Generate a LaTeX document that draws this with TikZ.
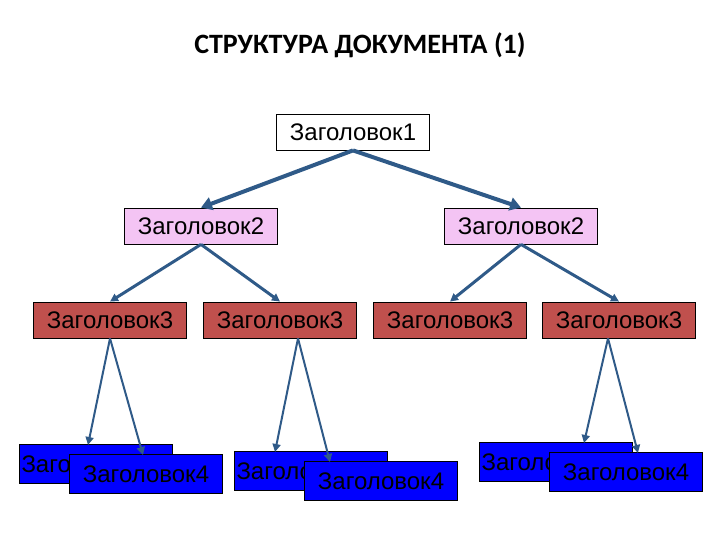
\documentclass[tikz,border=0pt]{standalone}
\usepackage{fontspec}
\setmainfont{Liberation Sans}
\newfontfamily\titlefont{Carlito}
\usetikzlibrary{arrows.meta}
\definecolor{arr}{HTML}{2F5A88}
\definecolor{pinkbox}{HTML}{F4C4F4}
\definecolor{redbox}{HTML}{C0504D}
\begin{document}
\begin{tikzpicture}[x=1pt,y=-1pt,
 box/.style={draw=black,line width=0.8pt,minimum width=153pt,minimum height=36pt,inner sep=0pt,font=\fontsize{24}{28}\selectfont},
 b1/.style={box,fill=white},
 b2/.style={box,fill=pinkbox},
 b3/.style={box,fill=redbox},
 b4/.style={box,fill=blue,minimum height=39pt},
 thick arr/.style={draw=arr,line width=4pt,-{Triangle[length=11pt,width=13pt]}},
 thin arr/.style={draw=arr,line width=2pt,-{Triangle[length=8pt,width=8pt]}}]
\useasboundingbox (0,0) rectangle (720,540);
\node[font=\titlefont\bfseries\fontsize{28}{32}\selectfont] (title) at (360,45) {СТРУКТУРА ДОКУМЕНТА (1)};
\node[b1] (h1) at (353,132) {Заголовок1};
\node[b2] (h2a) at (201,226) {Заголовок2};
\node[b2] (h2b) at (521,226) {Заголовок2};
\node[b3] (h3a) at (110,320) {Заголовок3};
\node[b3] (h3b) at (280,320) {Заголовок3};
\node[b3] (h3c) at (450,320) {Заголовок3};
\node[b3] (h3d) at (619,320) {Заголовок3};
\node[b4,text width=149pt,align=left] (h4a) at (96,464) {Заголовок4};
\node[b4] (h4b) at (146,474) {Заголовок4};
\node[b4,text width=149pt,align=left] (h4c) at (311,471) {Заголовок4};
\node[b4] (h4d) at (381,481) {Заголовок4};
\node[b4,text width=149pt,align=left] (h4e) at (556,462) {Заголовок4};
\node[b4] (h4f) at (626,472) {Заголовок4};
\coordinate (e1) at (88,445);
\coordinate (e2) at (143,455);
\coordinate (e3) at (275,452);
\coordinate (e4) at (330,462);
\coordinate (e5) at (584,443);
\coordinate (e6) at (638,453);
\draw[thick arr] (h1.south) -- (h2a.north);
\draw[thick arr] (h1.south) -- (h2b.north);
\draw[thin arr,line width=3pt] (h2a.south) -- (h3a.north);
\draw[thin arr,line width=3pt] (h2a.south) -- (h3b.north);
\draw[thin arr,line width=3pt] (h2b.south) -- (h3c.north);
\draw[thin arr,line width=3pt] (h2b.south) -- (h3d.north);
\draw[thin arr] (h3a.south) -- (e1);
\draw[thin arr] (h3a.south) -- (e2);
\draw[thin arr] ([xshift=18pt]h3b.south) -- (e3);
\draw[thin arr] ([xshift=18pt]h3b.south) -- (e4);
\draw[thin arr] ([xshift=-11pt]h3d.south) -- (e5);
\draw[thin arr] ([xshift=-11pt]h3d.south) -- (e6);
\end{tikzpicture}
\end{document}
